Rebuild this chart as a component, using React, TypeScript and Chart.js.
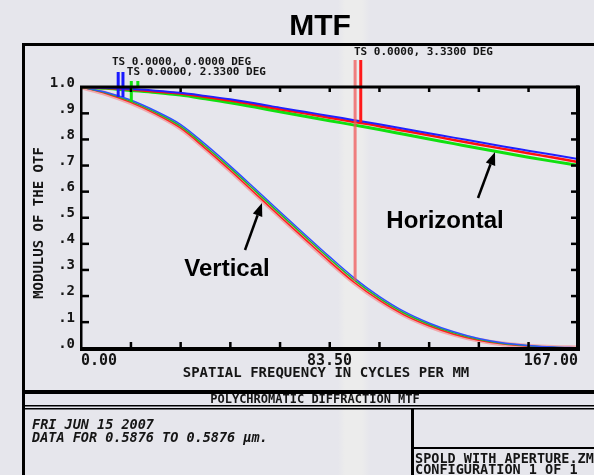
import React, { useEffect, useRef } from 'react';
import { Chart, registerables } from 'chart.js';

Chart.register(...registerables);

// ---- data ----
const freqs = [0, 8.35, 16.7, 25.05, 33.4, 41.75, 50.1, 58.45, 66.8, 75.15, 83.5, 91.85, 100.2, 108.55, 116.9, 125.25, 133.6, 141.95, 150.3, 158.65, 167];

const horzBlue = [1.0, 0.997, 0.992, 0.986, 0.978, 0.966, 0.953, 0.938, 0.921, 0.905, 0.889, 0.873, 0.857, 0.84, 0.823, 0.806, 0.789, 0.772, 0.756, 0.74, 0.724];
const horzRed = [1.0, 0.996, 0.99, 0.983, 0.975, 0.962, 0.948, 0.932, 0.915, 0.899, 0.882, 0.866, 0.85, 0.832, 0.815, 0.797, 0.78, 0.763, 0.746, 0.73, 0.713];
const horzGreen = [1.0, 0.995, 0.987, 0.979, 0.969, 0.955, 0.94, 0.923, 0.905, 0.888, 0.871, 0.854, 0.837, 0.819, 0.801, 0.783, 0.765, 0.748, 0.731, 0.715, 0.7];

const vertBlue = [1.0, 0.98, 0.95, 0.908, 0.857, 0.781, 0.698, 0.611, 0.523, 0.436, 0.35, 0.268, 0.198, 0.14, 0.096, 0.062, 0.036, 0.019, 0.01, 0.004, 0.001];
const vertGreen = [1.0, 0.978, 0.946, 0.903, 0.85, 0.773, 0.69, 0.603, 0.515, 0.428, 0.342, 0.26, 0.191, 0.134, 0.091, 0.058, 0.033, 0.017, 0.009, 0.003, 0.0];
const vertRed = [1.0, 0.975, 0.941, 0.897, 0.843, 0.765, 0.681, 0.593, 0.505, 0.418, 0.332, 0.251, 0.183, 0.127, 0.085, 0.053, 0.03, 0.015, 0.007, 0.002, 0.0];

const xLabelTicks = [0, 83.5, 167];
const xMinorTicks = [16.7, 33.4, 50.1, 66.8, 83.5, 100.2, 116.9, 133.6, 150.3];
const yMinorTicks = [0.1, 0.2, 0.3, 0.4, 0.5, 0.6, 0.7, 0.8, 0.9];

// field marker segments: [freq, yTop, yBottom]
const blueMarkers = [[12.5, 1.057, 0.962], [14.1, 1.057, 0.962]];
const greenMarkers = [[16.9, 1.023, 0.943], [19.1, 1.023, 0.996]];
const redMarkerPale = [92.1, 1.103, 0.258];
const redMarkerBright = [94.0, 1.103, 0.866];

const fieldLabels = [
  { text: 'TS 0.0000, 0.0000 DEG', freq: 10.4, value: 1.095 },
  { text: 'TS 0.0000, 2.3300 DEG', freq: 15.4, value: 1.057 },
  { text: 'TS 0.0000, 3.3300 DEG', freq: 91.7, value: 1.134 },
];

const TITLE = 'MTF';
const X_TITLE = 'SPATIAL FREQUENCY IN CYCLES PER MM';
const Y_TITLE = 'MODULUS OF THE OTF';
const SUB_TITLE = 'POLYCHROMATIC DIFFRACTION MTF';
const FOOT_LEFT = ['FRI JUN 15 2007', 'DATA FOR 0.5876 TO 0.5876 \u00b5m.'];
const FOOT_RIGHT = ['SPOLD WITH APERTURE.ZMX', 'CONFIGURATION 1 OF 1'];

const MONO = '"DejaVu Sans Mono", monospace';
const SANS = '"Liberation Sans", Arial, sans-serif';

function curve(ys: number[], color: string, width: number) {
  return {
    data: freqs.map((f, i) => ({ x: f, y: ys[i] })),
    borderColor: color,
    borderWidth: width,
    pointRadius: 0,
    fill: false,
    cubicInterpolationMode: 'monotone' as const,
  };
}

function segment(m: number[], color: string, width: number) {
  return {
    data: [{ x: m[0], y: m[1] }, { x: m[0], y: m[2] }],
    borderColor: color,
    borderWidth: width,
    pointRadius: 0,
    fill: false,
    clip: false as const,
  };
}

function drawArrow(ctx: CanvasRenderingContext2D, x1: number, y1: number, x2: number, y2: number) {
  const ang = Math.atan2(y2 - y1, x2 - x1);
  const hl = 13, hw = 5;
  const bx = x2 - hl * Math.cos(ang), by = y2 - hl * Math.sin(ang);
  ctx.strokeStyle = '#000';
  ctx.lineWidth = 2.5;
  ctx.beginPath();
  ctx.moveTo(x1, y1);
  ctx.lineTo(bx, by);
  ctx.stroke();
  ctx.fillStyle = '#000';
  ctx.beginPath();
  ctx.moveTo(x2, y2);
  ctx.lineTo(bx + hw * Math.sin(ang), by - hw * Math.cos(ang));
  ctx.lineTo(bx - hw * Math.sin(ang), by + hw * Math.cos(ang));
  ctx.closePath();
  ctx.fill();
}

const decor = {
  id: 'decor',
  afterDraw(chart: any) {
    const ctx: CanvasRenderingContext2D = chart.ctx;
    const { left, right, top, bottom } = chart.chartArea;
    const xs = chart.scales.x;
    const ys = chart.scales.y;
    const W = chart.width;
    const H = chart.height;
    ctx.save();
    ctx.fillStyle = '#000';
    // outer frame
    ctx.fillRect(22, 43, W - 22, 3);
    ctx.fillRect(22, 43, 3, H - 43);
    ctx.fillRect(22, 390, W - 22, 4);
    ctx.fillRect(22, 405, W - 22, 1.5);
    ctx.fillRect(22, 408, W - 22, 1.5);
    ctx.fillRect(411, 408, 3, H - 408);
    ctx.fillRect(411, 447, W - 411, 2);
    // plot frame
    ctx.fillRect(left - 1, top - 1, 2.5, bottom - top + 2);
    ctx.fillRect(left - 1, top - 1.5, right - left + 2, 3);
    ctx.fillRect(right - 2, top - 1.5, 4, bottom - top + 4);
    ctx.fillRect(left - 1, bottom - 1, right - left + 3, 4);
    // ticks
    xMinorTicks.forEach((v) => {
      const x = xs.getPixelForValue(v);
      ctx.fillRect(x - 1, top, 2.5, 5);
      ctx.fillRect(x - 1, bottom - 6, 2.5, 6);
    });
    yMinorTicks.forEach((v) => {
      const y = ys.getPixelForValue(v);
      ctx.fillRect(left, y - 1, 8, 2.5);
      ctx.fillRect(right - 7, y - 1, 7, 2.5);
    });

    // title
    ctx.fillStyle = '#000';
    ctx.textAlign = 'center';
    ctx.textBaseline = 'alphabetic';
    ctx.font = `bold 30px ${SANS}`;
    ctx.fillText(TITLE, 320, 35);

    // field labels
    ctx.fillStyle = '#151515';
    ctx.textAlign = 'left';
    ctx.textBaseline = 'middle';
    ctx.font = `bold 11px ${MONO}`;
    fieldLabels.forEach((l) => {
      ctx.fillText(l.text, xs.getPixelForValue(l.freq), ys.getPixelForValue(l.value));
    });

    // axis titles
    ctx.font = `bold 14px ${MONO}`;
    ctx.textAlign = 'center';
    ctx.fillText(X_TITLE, 326, 373);
    ctx.save();
    ctx.translate(39, 223);
    ctx.rotate(-Math.PI / 2);
    ctx.fillText(Y_TITLE, 0, 0);
    ctx.restore();

    ctx.font = `bold 12px ${MONO}`;
    ctx.fillText(SUB_TITLE, 315, 400);

    ctx.textAlign = 'left';
    ctx.font = `italic bold 13.5px ${MONO}`;
    ctx.fillText(FOOT_LEFT[0], 32, 425);
    ctx.fillText(FOOT_LEFT[1], 32, 438);
    ctx.font = `bold 13.5px ${MONO}`;
    ctx.fillText(FOOT_RIGHT[0], 415, 459);
    ctx.fillText(FOOT_RIGHT[1], 415, 470);

    // annotations
    ctx.fillStyle = '#000';
    ctx.textAlign = 'center';
    ctx.textBaseline = 'alphabetic';
    ctx.font = `bold 24px ${SANS}`;
    ctx.fillText('Vertical', 227, 276);
    ctx.fillText('Horizontal', 445, 228);
    drawArrow(ctx, 245, 250, 262, 203);
    drawArrow(ctx, 478, 198, 495, 152);
    ctx.restore();
  },
};

export default function App() {
  const ref = useRef<HTMLCanvasElement | null>(null);
  useEffect(() => {
    if (!ref.current) return;
    const datasets: any[] = [
      segment(redMarkerBright, '#ff1a1a', 3),
      segment(redMarkerPale, 'rgba(240,90,90,0.75)', 3),
      ...blueMarkers.map((m) => segment(m, '#1a1aff', 3)),
      ...greenMarkers.map((m) => segment(m, '#10e010', 3)),
      curve(horzBlue, '#2020ff', 2),
      curve(horzRed, '#ff1010', 2.5),
      curve(horzGreen, '#10e010', 3),
      curve(vertBlue, '#3050ff', 1.5),
      curve(vertGreen, '#20c020', 1.5),
      curve(vertRed, '#ff2020', 1.5),
      curve(vertRed, 'rgba(255,60,60,0.35)', 5),
    ];
    const chart = new Chart(ref.current, {
      type: 'line',
      data: { datasets },
      options: {
        animation: false,
        responsive: false,
        events: [],
        layout: { padding: { left: 0, top: 87, right: 16, bottom: 97 } },
        plugins: { legend: { display: false }, tooltip: { enabled: false }, title: { display: false } },
        scales: {
          x: {
            type: 'linear',
            min: 0,
            max: 167,
            afterFit: (s: any) => { s.height = 30; },
            afterBuildTicks: (s: any) => { s.ticks = xLabelTicks.map((v) => ({ value: v })); },
            grid: { display: false, drawTicks: false },
            border: { display: false },
            ticks: {
              autoSkip: false,
              maxRotation: 0,
              align: 'inner',
              padding: 4,
              color: '#151515',
              font: { family: MONO, size: 15, weight: 'bold' },
              callback: (v: any) => Number(v).toFixed(2),
            },
          },
          y: {
            type: 'linear',
            min: 0,
            max: 1,
            afterFit: (s: any) => { s.width = 81; },
            grid: { display: false, drawTicks: false },
            border: { display: false },
            ticks: {
              stepSize: 0.1,
              autoSkip: false,
              padding: 6,
              labelOffset: -4,
              color: '#151515',
              font: { family: MONO, size: 14, weight: 'bold' },
              callback: (v: any) => (Number(v) >= 0.999 ? '1.0' : '.' + Math.round(Number(v) * 10)),
            },
          },
        },
      },
      plugins: [decor],
    } as any);
    return () => chart.destroy();
  }, []);
  return (
    <div
      style={{
        position: 'absolute',
        left: 0,
        top: 0,
        width: 594,
        height: 475,
        overflow: 'hidden',
        background:
          'linear-gradient(to right, #e6e6ec 0px, #e6e6ec 338px, #ececec 345px, #ececec 362px, #e6e6ec 370px, #e6e6ec 594px)',
      }}
    >
      <canvas ref={ref} width={594} height={475} style={{ display: 'block', width: 594, height: 475 }} />
    </div>
  );
}
